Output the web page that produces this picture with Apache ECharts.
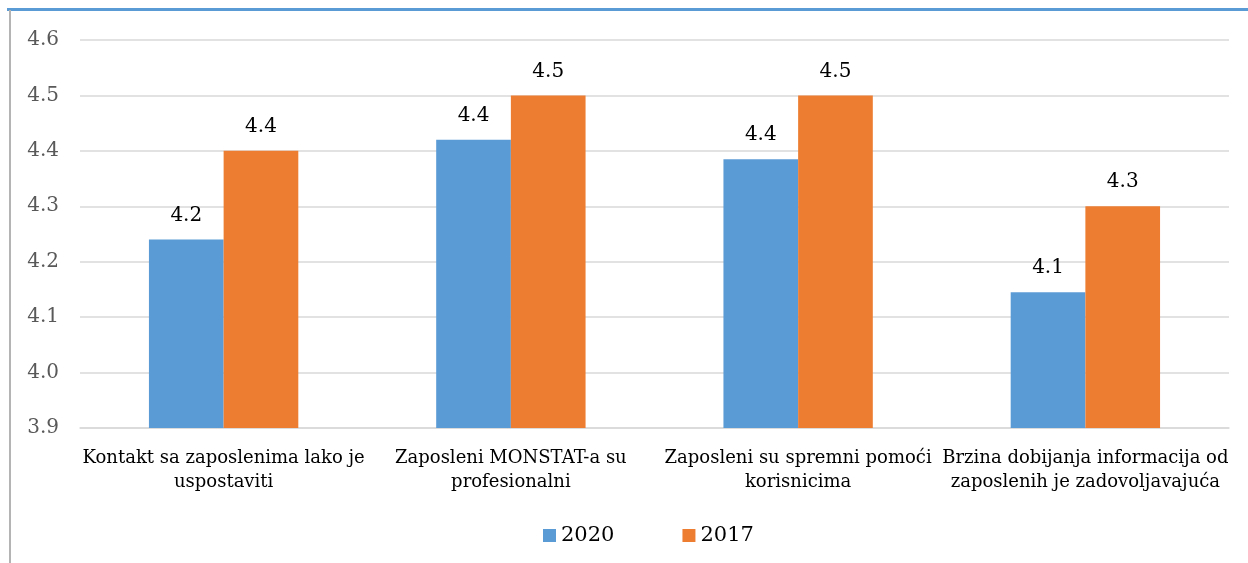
<!DOCTYPE html>
<html>
<head>
<meta charset="utf-8">
<script src="https://cdn.jsdelivr.net/npm/echarts@6/dist/echarts.min.js"></script>
<style>
  html, body { margin: 0; padding: 0; background: #fff; }
  #chart { width: 1248px; height: 563px; }
</style>
</head>
<body>
<div id="chart"></div>
<script>
const categories = [
  'Kontakt sa zaposlenima lako je\nuspostaviti',
  'Zaposleni MONSTAT-a su\nprofesionalni',
  'Zaposleni su spremni pomoći\nkorisnicima',
  'Brzina dobijanja informacija od\nzaposlenih je zadovoljavajuća'
];
const values2020 = [4.24, 4.42, 4.385, 4.145];
const values2017 = [4.4, 4.5, 4.5, 4.3];
const seriesNames = ['2020', '2017'];

const fontFamily = '"DejaVu Serif", "Liberation Serif", serif';

const chart = echarts.init(document.getElementById('chart'));

const barLabel = {
  show: true,
  position: 'top',
  distance: 14,
  color: '#000',
  fontSize: 20,
  fontFamily: fontFamily,
  formatter: (p) => p.value.toFixed(1)
};

chart.setOption({
  backgroundColor: '#fff',
  animation: false,
  grid: {
    left: 80,
    right: 19,
    top: 40,
    bottom: 135,
    containLabel: false
  },
  legend: {
    data: seriesNames,
    bottom: 12,
    left: 538,
    itemWidth: 13,
    itemHeight: 13,
    itemGap: 68,
    icon: 'rect',
    textStyle: {
      color: '#000',
      fontSize: 21,
      fontFamily: fontFamily
    }
  },
  xAxis: {
    type: 'category',
    data: categories,
    axisTick: { show: false },
    axisLine: {
      lineStyle: { color: '#d9d9d9', width: 1.5 }
    },
    axisLabel: {
      color: '#000',
      fontSize: 18,
      lineHeight: 24,
      fontFamily: fontFamily,
      interval: 0,
      margin: 18
    }
  },
  yAxis: {
    type: 'value',
    min: 3.9,
    max: 4.6,
    interval: 0.1,
    axisLine: { show: false },
    axisTick: { show: false },
    splitLine: {
      lineStyle: { color: '#d9d9d9', width: 1.5 }
    },
    axisLabel: {
      color: '#595959',
      fontSize: 20,
      fontFamily: fontFamily,
      margin: 21,
      formatter: (v) => v.toFixed(1)
    }
  },
  series: [
    {
      name: seriesNames[0],
      type: 'bar',
      data: values2020,
      barGap: '0%',
      barCategoryGap: '48%',
      itemStyle: { color: '#5b9bd5' },
      label: barLabel
    },
    {
      name: seriesNames[1],
      type: 'bar',
      data: values2017,
      itemStyle: { color: '#ed7d31' },
      label: barLabel
    }
  ],
  graphic: [
    {
      type: 'rect',
      shape: { x: 7, y: 8, width: 1241, height: 3 },
      style: { fill: '#5b9bd5' },
      silent: true
    },
    {
      type: 'rect',
      shape: { x: 9, y: 10, width: 2, height: 553 },
      style: { fill: '#b4b4b4' },
      silent: true
    }
  ]
});
</script>
</body>
</html>
